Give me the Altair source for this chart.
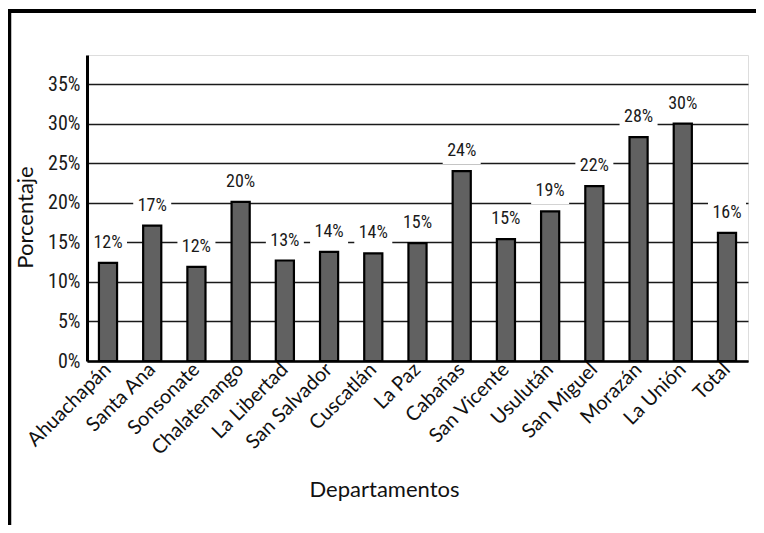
import altair as alt
import pandas as pd

departamentos = ["Ahuachapán", "Santa Ana", "Sonsonate", "Chalatenango", "La Libertad",
                 "San Salvador", "Cuscatlán", "La Paz", "Cabañas", "San Vicente",
                 "Usulután", "San Miguel", "Morazán", "La Unión", "Total"]
porcentajes = [12.4, 17.1, 11.9, 20.1, 12.7, 13.8, 13.6, 14.9, 24.0, 15.4,
               18.9, 22.1, 28.3, 30.0, 16.2]
etiquetas = ["12%", "17%", "12%", "20%", "13%", "14%", "14%", "15%", "24%", "15%",
             "19%", "22%", "28%", "30%", "16%"]
y_ticks = [0, 5, 10, 15, 20, 25, 30, 35]

df = pd.DataFrame({"dep": departamentos, "pct": porcentajes, "lab": etiquetas})

W, H = 661, 306
narrow = "Roboto Condensed, Roboto, sans-serif"
sans = "Lato, sans-serif"

x_enc = alt.X("dep:N", sort=departamentos,
              scale=alt.Scale(paddingInner=0.59, paddingOuter=0.27),
              axis=alt.Axis(title="Departamentos", labelAngle=-45, labelAlign="right",
                            labelBaseline="middle", labelPadding=5, ticks=False,
                            labelFont=sans, labelFontSize=20, labelColor="#111",
                            titleFont=sans, titleFontSize=22, titleFontWeight="normal",
                            titleColor="#111", titleX=297, titleY=128,
                            titleBaseline="middle", titleAlign="center",
                            domainColor="#000", domainWidth=2.5, grid=False,
                            labelOverlap=False))
y_scale = alt.Scale(domain=[0, 38.67], nice=False)
y_enc = alt.Y("pct:Q", scale=y_scale,
              axis=alt.Axis(title="Porcentaje", values=y_ticks,
                            labelExpr="datum.value + '%'", ticks=False,
                            labelFont=narrow, labelFontSize=20,
                            labelColor="#1a1a1a", labelPadding=7,
                            titleFont=sans, titleFontSize=22, titleFontWeight="normal",
                            titleColor="#111", titleX=-62, titleY=162,
                            titleBaseline="middle", titleAlign="center", titleAngle=270,
                            domainColor="#000", domainWidth=3,
                            grid=True, gridColor="#1a1a1a", gridWidth=1.3, gridOpacity=1))

base = alt.Chart(df)

bars = base.mark_bar(color="#616161", stroke="#000", strokeWidth=2.2).encode(x=x_enc, y=y_enc)

boxes = base.mark_point(shape="M-1,-0.68H1V0.68H-1Z", size=1444, filled=True,
                        fill="white", opacity=1, strokeWidth=0, yOffset=-20).encode(
    x=alt.X("dep:N", sort=departamentos), y=alt.Y("pct:Q"))

texts = base.mark_text(font=narrow, fontSize=18, color="#1a1a1a", dy=-20,
                       baseline="middle").encode(
    x=alt.X("dep:N", sort=departamentos), y=alt.Y("pct:Q"), text="lab:N")

frame_df = pd.DataFrame({"k": [0]})
frame_top = alt.Chart(frame_df).mark_rule(color="#000", strokeWidth=4).encode(
    x=alt.value(-79), x2=alt.value(680), y=alt.value(-44))
frame_left = alt.Chart(frame_df).mark_rule(color="#000", strokeWidth=3.5).encode(
    x=alt.value(-77.5), y=alt.value(-46), y2=alt.value(500))

chart = alt.layer(boxes, bars, texts, frame_top, frame_left).properties(
    width=W, height=H,
    autosize=alt.AutoSizeParams(type="none"),
    padding={"left": 79, "top": 47, "right": 8, "bottom": 164},
).configure_view(stroke=None).configure(background="white")

chart.save("out.html", embed_options={"renderer": "svg", "actions": False})
